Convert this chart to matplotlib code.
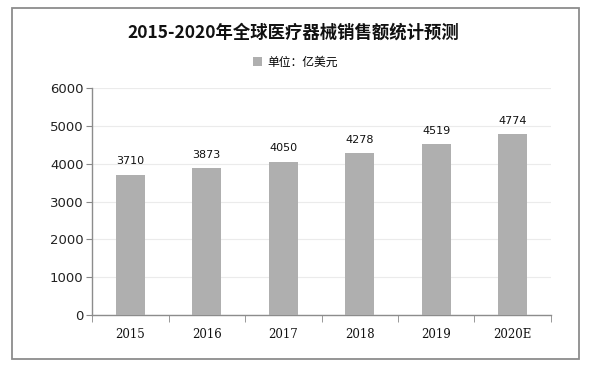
import matplotlib
matplotlib.use("Agg")
import matplotlib.pyplot as plt
from matplotlib.patches import Rectangle

plt.rcParams['font.family'] = ['Noto Sans CJK SC', 'DejaVu Sans']

categories = ['2015', '2016', '2017', '2018', '2019', '2020E']
values = [3710, 3873, 4050, 4278, 4519, 4774]
title = '2015-2020年全球医疗器械销售额统计预测'
legend_label = '单位：亿美元'
yticks = [0, 1000, 2000, 3000, 4000, 5000, 6000]

fig = plt.figure(figsize=(5.94, 3.69), dpi=100)
fig.patch.set_facecolor('white')

# outer border
fig.add_artist(Rectangle((0.0202, 0.0271), 0.975 - 0.0202, 0.978 - 0.0271,
                         transform=fig.transFigure, fill=False,
                         edgecolor='#8c8c8c', linewidth=1.3))

ax = fig.add_axes([0.1549, 0.1463, 0.9276 - 0.1549, 0.7615 - 0.1463])
x = list(range(len(categories)))
bars = ax.bar(x, values, width=0.38, color='#afafaf', label=legend_label, zorder=3)

ax.set_xlim(-0.5, len(categories) - 0.5)
ax.set_ylim(0, 6000)
ax.set_yticks(yticks)
ax.set_yticklabels([str(v) for v in yticks], fontsize=9.5, family='DejaVu Sans', color='#222222')
ax.set_xticks(x)
ax.set_xticklabels(categories, fontsize=8.5, family='DejaVu Serif', color='#111111')
ax.tick_params(axis='x', length=0, pad=9)
ax.set_xticks([i - 0.5 for i in range(len(categories) + 1)], minor=True)
ax.tick_params(axis='x', which='minor', length=5, color='#888888', direction='out')
ax.tick_params(axis='y', length=4, color='#888888', pad=2)

ax.yaxis.grid(True, color='#ebebeb', linewidth=0.8, zorder=0)
for s in ['top', 'right']:
    ax.spines[s].set_visible(False)
for s in ['left', 'bottom']:
    ax.spines[s].set_color('#8c8c8c')
    ax.spines[s].set_linewidth(1.0)

for xi, v in zip(x, values):
    ax.annotate(str(v), (xi, v), xytext=(0, 6), textcoords='offset points',
                ha='center', va='bottom', fontsize=8, family='DejaVu Sans', color='#111111')

fig.text(0.493, 0.912, title, ha='center', va='center', fontsize=12.5,
         fontweight='bold', color='#111111')

leg = fig.legend(loc='center', bbox_to_anchor=(0.497, 0.832), frameon=False,
                 fontsize=8.5, handlelength=0.8, handleheight=0.8, handletextpad=0.4)

fig.savefig('out.png', dpi=100, facecolor='white')
